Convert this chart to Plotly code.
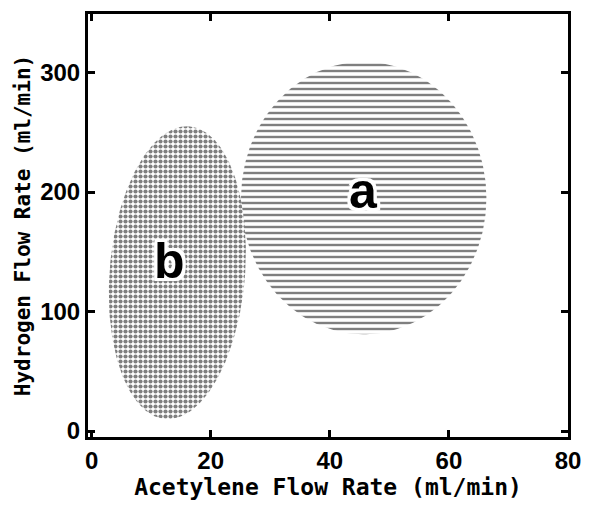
import numpy as np
import plotly.graph_objects as go

# Operating regions in the acetylene / hydrogen flow-rate plane
region_labels = ["a", "b"]
center_acetylene = [45.7, 14.4]     # ml/min
center_hydrogen = [195.0, 132.5]    # ml/min
radius_acetylene = [20.6, 11.4]     # ml/min
radius_hydrogen = [114.0, 122.5]    # ml/min
lean = [0.0, 0.013]                 # shear of acetylene extent with hydrogen
label_acetylene = [45.6, 13.1]
label_hydrogen = [201.0, 142.0]

x_ticks = [0, 20, 40, 60, 80]
y_ticks = [0, 100, 200, 300]

patterns = [
    dict(shape="-", size=6, solidity=0.4, fgcolor="black", bgcolor="white"),
    dict(shape=".", size=5, solidity=0.55, fgcolor="black", bgcolor="white"),
]

# white halo so the hatching stops just short of the region letters
halo = ", ".join(f"{dx}px {dy}px 0 white"
                 for dx in (-3, 0, 3) for dy in (-3, 0, 3) if dx or dy)

fig = go.Figure()
t = np.linspace(0, 2 * np.pi, 240)
for i, name in enumerate(region_labels):
    dy = radius_hydrogen[i] * np.sin(t)
    xs = center_acetylene[i] + radius_acetylene[i] * np.cos(t) + lean[i] * dy
    ys = center_hydrogen[i] + dy
    fig.add_trace(go.Scatter(
        x=xs, y=ys, mode="lines", fill="toself",
        fillcolor="white", fillpattern=patterns[i],
        line=dict(width=0, color="rgba(0,0,0,0)"),
        hoverinfo="skip", showlegend=False,
    ))
    fig.add_annotation(
        x=label_acetylene[i], y=label_hydrogen[i], text=f"<b>{name}</b>",
        showarrow=False,
        font=dict(family="Liberation Sans, Arial", size=50, color="black",
                  shadow=halo),
    )

axis_common = dict(
    showline=True, linecolor="black", linewidth=3,
    ticks="inside", tickcolor="black", tickwidth=2.5, ticklen=7,
    showgrid=False, zeroline=False,
    tickfont=dict(family="Liberation Sans Narrow, Liberation Sans, Arial",
                  size=24, color="black", weight="bold"),
)

fig.update_xaxes(
    **axis_common, range=[-0.6, 80], tickvals=x_ticks, mirror="ticks",
    title=dict(text="<b>Acetylene Flow Rate (ml/min)</b>", standoff=4,
               font=dict(family="DejaVu Sans Mono", size=23, color="black")),
)
fig.update_yaxes(
    **axis_common, range=[-5, 349], tickvals=y_ticks, mirror="ticks",
    title=dict(text="<b>Hydrogen Flow Rate (ml/min)</b>", standoff=4,
               font=dict(family="DejaVu Sans Mono", size=21, color="black")),
)

fig.update_layout(
    width=592, height=505,
    margin=dict(l=88, r=11, t=12, b=64),
    paper_bgcolor="white", plot_bgcolor="white",
)

fig.write_html("out.html")
